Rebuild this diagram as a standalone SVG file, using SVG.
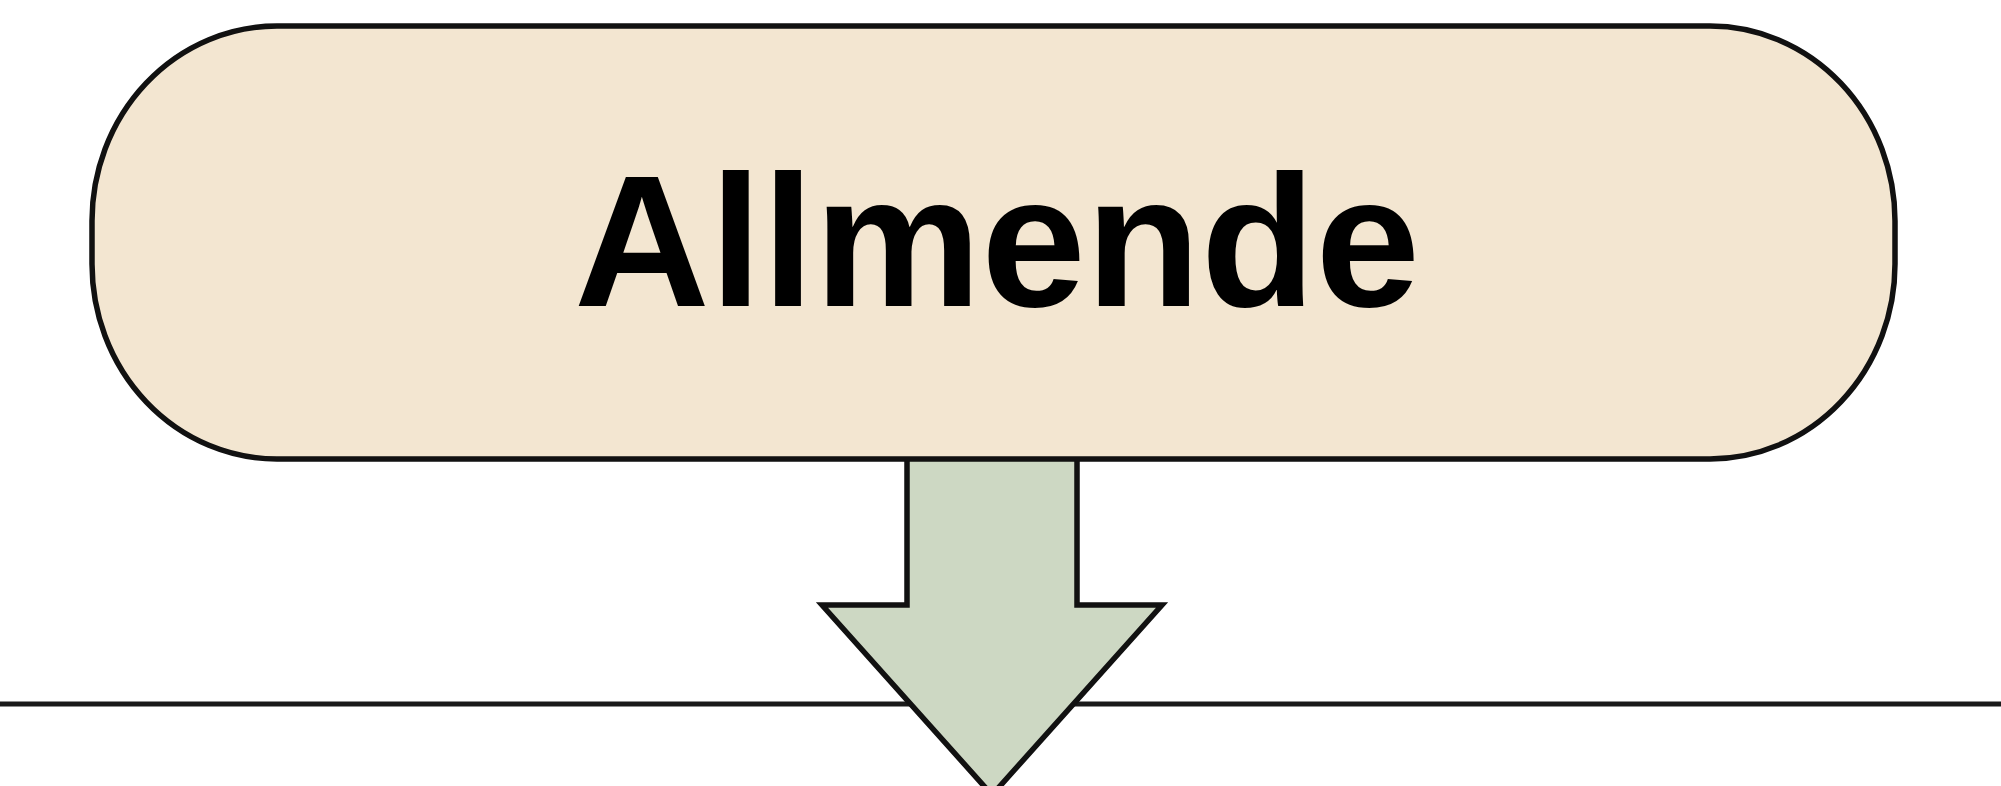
<svg xmlns="http://www.w3.org/2000/svg" width="2001" height="786" viewBox="0 0 2001 786">
<style>
.pill{fill:#F3E6D1;stroke:#111;stroke-width:5.5}
.arrow{fill:#CDD8C3;stroke:#111;stroke-width:5.5;stroke-linejoin:miter}
.rule{stroke:#1a1a1a;stroke-width:5}
.label{font-family:"Liberation Sans",Arial,sans-serif;font-weight:bold;font-size:188px;fill:#000}
</style>
<rect width="2001" height="786" fill="#fff"/>
<g id="divider">
<line class="rule" x1="0" y1="704" x2="2001" y2="704"/>
</g>
<g id="connectors">
<polygon class="arrow" points="907,455 907,605 822,605 992,795 1162,605 1077,605 1077,455"/>
</g>
<g id="node-allmende">
<rect class="pill" x="92" y="26" width="1803" height="433" rx="185" ry="195"/>
<text class="label" x="997" y="306" text-anchor="middle">Allmende</text>
</g>
</svg>
